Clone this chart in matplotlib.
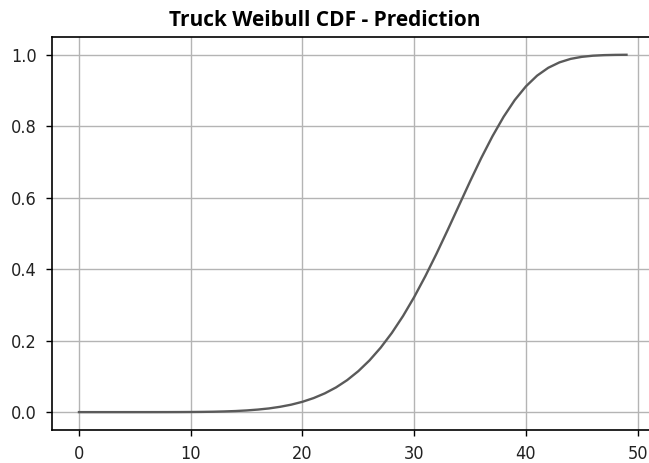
import matplotlib.pyplot as plt

# Predicted Weibull CDF for trucks, sampled at each whole x value
x_vals = list(range(50))
cdf_vals = [
    0.0, 0.0, 0.0, 0.0, 0.000001, 0.000004, 0.000014, 0.000036, 0.000085, 0.00018,
    0.00036, 0.00065, 0.0011, 0.0019, 0.0030, 0.0047, 0.0071, 0.0103, 0.0149, 0.0209,
    0.0289, 0.0393, 0.0525, 0.0690, 0.0895, 0.1146, 0.1447, 0.1803, 0.2216, 0.2688,
    0.3220, 0.3805, 0.4435, 0.5098, 0.5777, 0.6455, 0.7109, 0.7716, 0.8262, 0.8732,
    0.9115, 0.9415, 0.9635, 0.9786, 0.9884, 0.9941, 0.9973, 0.9989, 0.9996, 0.9999,
]

title = "Truck Weibull CDF - Prediction"

fig = plt.figure(figsize=(6.49, 4.63), dpi=100)
ax = fig.add_axes([0.0795, 0.0713, 0.928, 0.849])

ax.plot(x_vals, cdf_vals, color="#5a5a5a", linewidth=1.7)
ax.grid(True, color="#b4b4b4", linewidth=1.0)
ax.set_axisbelow(True)

ax.set_xticks([0, 10, 20, 30, 40, 50])
ax.set_yticks([0.0, 0.2, 0.4, 0.6, 0.8, 1.0])
for lab in ax.get_xticklabels() + ax.get_yticklabels():
    lab.set_fontfamily("DejaVu Sans")
    lab.set_fontstretch("condensed")
    lab.set_fontsize(13)
    lab.set_color("#222222")
ax.tick_params(length=4.5, width=1, pad=6)
for s in ax.spines.values():
    s.set_linewidth(1.2)

fig.text(0.5, 0.943, title, ha="center", va="baseline",
         fontsize=15, fontweight="bold", family="Open Sans")

fig.savefig("out.png", dpi=100)
